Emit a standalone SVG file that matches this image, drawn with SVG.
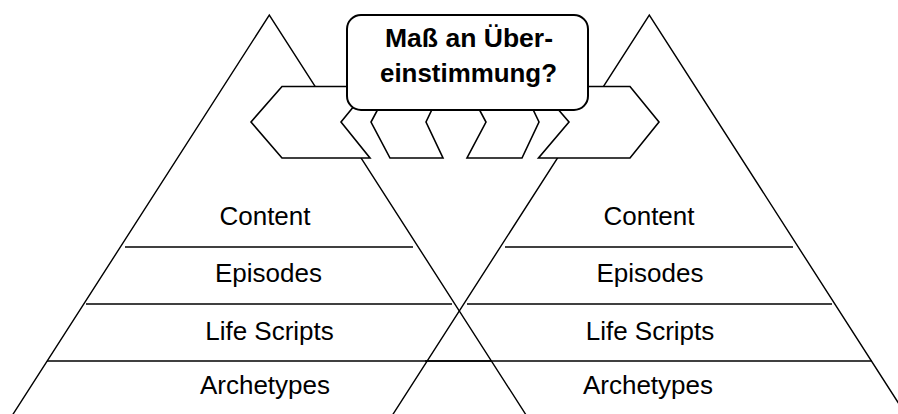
<svg xmlns="http://www.w3.org/2000/svg" width="898" height="414" viewBox="0 0 898 414">
  <style>
    .edge { fill: none; stroke: #000; stroke-width: 1.4; }
    .layer { stroke: #000; stroke-width: 1.5; }
    .label { font-family: "Liberation Sans", Arial, sans-serif; font-size: 26px; fill: #000; text-anchor: middle; }
    .title { font-family: "Liberation Sans", Arial, sans-serif; font-size: 25.5px; font-weight: bold; fill: #000; text-anchor: middle; }
    .arrow { fill: #fff; stroke: #000; stroke-width: 1.6; stroke-linejoin: miter; }
    .box { fill: #fff; stroke: #000; stroke-width: 2; }
  </style>
  <rect width="898" height="414" fill="#fff"/>

  <!-- left pyramid -->
  <g id="pyramid-left">
    <polyline class="edge" points="9.3,420 269.3,15 529.3,420"/>
    <line class="layer" x1="125" y1="247" x2="413" y2="247"/>
    <line class="layer" x1="86" y1="304" x2="452" y2="304"/>
    <line class="layer" x1="47" y1="361" x2="491" y2="361"/>
    <text class="label" x="265" y="225">Content</text>
    <text class="label" x="268.5" y="282">Episodes</text>
    <text class="label" x="269.5" y="340">Life Scripts</text>
    <text class="label" x="265" y="394">Archetypes</text>
  </g>

  <!-- right pyramid -->
  <g id="pyramid-right">
    <polyline class="edge" points="389.3,420 649.3,15 909.3,420"/>
    <line class="layer" x1="505" y1="247" x2="793" y2="247"/>
    <line class="layer" x1="467" y1="304" x2="832" y2="304"/>
    <line class="layer" x1="425" y1="361" x2="872" y2="361"/>
    <text class="label" x="649" y="225">Content</text>
    <text class="label" x="650" y="282">Episodes</text>
    <text class="label" x="650" y="340">Life Scripts</text>
    <text class="label" x="648" y="394">Archetypes</text>
  </g>

  <!-- chevron arrows between the pyramids and the question -->
  <g id="connectors">
    <polygon class="arrow" points="282,86.5 370,86.5 341,122 370,158 282,158 251,122"/>
    <polygon class="arrow" points="390,86.5 443,86.5 426,122 443,158 390,158 371,122"/>
    <polygon class="arrow" points="467,86.5 522,86.5 539,122 522,158 467,158 486,122"/>
    <polygon class="arrow" points="538.5,86.5 630,86.5 659,122 630,158 538.5,158 569,122"/>
  </g>

  <!-- question box -->
  <g id="question">
    <rect class="box" x="347" y="15" width="241" height="95" rx="14" ry="14"/>
    <text class="title" x="469" y="47" textLength="168" lengthAdjust="spacingAndGlyphs">Maß an Über-</text>
    <text class="title" x="468.5" y="82" textLength="177" lengthAdjust="spacingAndGlyphs">einstimmung?</text>
  </g>
</svg>
